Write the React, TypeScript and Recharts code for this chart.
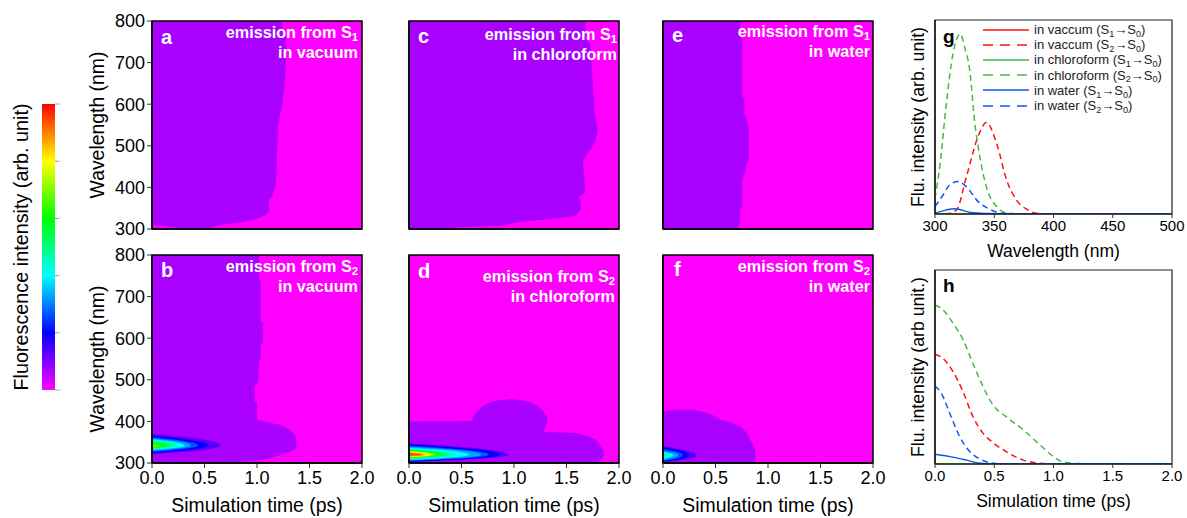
import { Area, Bar, BarChart, ComposedChart, Legend, Line, ReferenceArea, XAxis, YAxis } from "recharts";

const FONT = '"Liberation Sans", Arial, sans-serif';

const timeTicks = [0, 0.5, 1, 1.5, 2];
const wavelengthTicks = [300, 400, 500, 600, 700, 800];
const spectrumTicks = [300, 350, 400, 450, 500];
const intensityTicks = [0, 1, 2, 3, 4, 5];

// contour fill colours, lowest level first
const levelColors = ["#aa00ff", "#5500ff", "#0000ff", "#0055ff", "#00aaff", "#00ffff", "#00ffaa", "#00ff55", "#00ff00", "#55ff00", "#aaff00", "#ffff00", "#ffaa00", "#ff5500"];
const colorbarStops = ["#ff00ff", "#0000ff", "#00ffff", "#00ff00", "#ffff00", "#ff0000"];

// outer contour of each panel: wavelength, then time limit(s) in ps
const wlA = [300, 304, 310, 316, 324, 334, 340, 344, 372, 375, 388, 408, 544, 548, 576, 600, 640, 700, 775, 780, 800];
const hiA = [0.55, 0.58, 0.66, 0.85, 1.0, 1.086, 1.1, 1.114, 1.114, 1.14, 1.16, 1.18, 1.2, 1.2, 1.22, 1.24, 1.26, 1.276, 1.276, 1.238, 1.238];
const loA = [0.36, 0.19, 0];

const wlB = [300, 302, 308, 316, 332, 344, 364, 380, 392, 400, 404, 444, 448, 484, 496, 544, 548, 584, 588, 636, 640, 740, 744, 800];
const hiB = [0.74, 0.84, 1.06, 1.19, 1.36, 1.378, 1.368, 1.314, 1.22, 1.06, 1.0, 1.0, 0.978, 0.978, 1.01, 1.02, 1.035, 1.035, 1.057, 1.057, 1.035, 1.035, 1.02, 1.02];

const wlC = [300, 301.6, 308, 316, 324, 328, 332, 344, 364, 376, 388, 428, 464, 480, 496, 516, 540, 580, 644, 700, 744, 760, 800];
const hiC = [0.2, 0.27, 0.87, 1.03, 1.346, 1.5, 1.58, 1.63, 1.64, 1.616, 1.68, 1.667, 1.657, 1.695, 1.743, 1.78, 1.797, 1.768, 1.752, 1.737, 1.727, 1.68, 1.68];

const wlD = [300, 304, 312, 324, 340, 356, 364, 372, 372.8, 374.4, 376, 388, 396, 399.5, 401, 412, 424, 436, 444, 450.4, 453.6];
const hiD = [1.79, 1.806, 1.85, 1.86, 1.83, 1.775, 1.71, 1.6, 1.55, 1.3, 1.28, 1.3, 1.314, 1.317, 1.317, 1.314, 1.28, 1.235, 1.17, 1.09, 0.965];
const loD = [0, 0, 0, 0, 0, 0, 0, 0, 0, 0, 0, 0, 0, 0, 0.6, 0.615, 0.65, 0.695, 0.76, 0.84, 0.965];

const wlE = [300, 312, 348, 352, 420, 432, 460, 464, 540, 568, 572, 612, 616, 756, 760, 800];
const hiE = [0.705, 0.73, 0.737, 0.755, 0.755, 0.778, 0.797, 0.816, 0.816, 0.794, 0.775, 0.775, 0.755, 0.755, 0.737, 0.737];

const wlF = [300, 332, 356, 372, 388, 396, 404, 416, 424, 428];
const hiF = [0.88, 0.88, 0.83, 0.8, 0.737, 0.657, 0.546, 0.47, 0.37, 0.29];
const loF = [0, 0, 0, 0, 0, 0, 0, 0, 0, 0.1];

// inner contours of the S2 panels, level by level: [wavelengths, time reached]
const blobB = [
  [[321, 327, 335, 342, 352, 362, 370], [0, 0.33, 0.575, 0.654, 0.575, 0.33, 0]],
  [[324, 329, 336, 342, 350, 358.5, 365.6], [0, 0.27, 0.47, 0.536, 0.47, 0.27, 0]],
  [[327, 331.5, 337, 342, 349, 356, 362], [0, 0.22, 0.39, 0.44, 0.39, 0.22, 0]],
  [[329.6, 333.3, 337.7, 342, 348, 354, 359], [0, 0.19, 0.33, 0.37, 0.33, 0.19, 0]],
  [[332, 335, 338.5, 342, 347, 352.5, 357], [0, 0.16, 0.28, 0.314, 0.28, 0.16, 0]],
  [[333.6, 336, 339, 342, 346.5, 351, 355], [0, 0.13, 0.22, 0.25, 0.22, 0.13, 0]],
  [[335, 337, 339.5, 342, 345, 348, 351], [0, 0.095, 0.165, 0.187, 0.165, 0.095, 0]],
  [[337, 338.5, 340, 342, 344.5, 347, 349], [0, 0.07, 0.12, 0.14, 0.12, 0.07, 0]],
  [[338, 339, 340.5, 342, 343.5, 345, 346], [0, 0.045, 0.08, 0.09, 0.08, 0.045, 0]],
];
const blobD = [
  [[301.6, 307, 313.6, 320, 329.5, 339, 347], [0, 0.485, 0.835, 0.95, 0.835, 0.485, 0]],
  [[303.2, 308, 314, 320, 328.7, 337.4, 344.8], [0, 0.44, 0.77, 0.87, 0.77, 0.44, 0]],
  [[304.8, 309.4, 314.7, 320, 327.6, 335, 341.6], [0, 0.39, 0.67, 0.76, 0.67, 0.39, 0]],
  [[306.4, 310.5, 315.2, 320, 326.7, 333.4, 339.2], [0, 0.35, 0.61, 0.69, 0.61, 0.35, 0]],
  [[308, 311.6, 315.8, 320, 325.9, 331.8, 336.8], [0, 0.29, 0.5, 0.57, 0.5, 0.29, 0]],
  [[309.6, 312.7, 316.4, 320, 325, 330, 334.4], [0, 0.22, 0.39, 0.44, 0.39, 0.22, 0]],
  [[311.2, 313.8, 316.9, 320, 324.5, 329, 332.8], [0, 0.18, 0.32, 0.36, 0.32, 0.18, 0]],
  [[312, 314.4, 317.2, 320, 324, 327.8, 331.2], [0, 0.15, 0.26, 0.3, 0.26, 0.15, 0]],
  [[312.8, 315, 317.5, 320, 323.4, 326.7, 329.6], [0, 0.14, 0.24, 0.27, 0.24, 0.14, 0]],
  [[313.6, 315.5, 317.8, 320, 323, 326, 328.8], [0, 0.12, 0.21, 0.235, 0.21, 0.12, 0]],
  [[314.4, 316, 318, 320, 322.5, 325, 327.2], [0, 0.1, 0.18, 0.2, 0.18, 0.1, 0]],
  [[315.2, 316.6, 318.3, 320, 322, 323.9, 325.6], [0, 0.08, 0.14, 0.16, 0.14, 0.08, 0]],
  [[316.8, 317.8, 318.9, 320, 321.7, 323.4, 324.8], [0, 0.06, 0.11, 0.124, 0.11, 0.06, 0]],
];
const blobF = [
  [[300.8, 306, 312, 319, 326, 333, 340.8], [0, 0.16, 0.28, 0.32, 0.28, 0.16, 0]],
  [[303.2, 308, 313.5, 319, 325.5, 332, 337.6], [0, 0.13, 0.22, 0.25, 0.22, 0.13, 0]],
  [[304.8, 309, 314, 319, 324, 329, 333.6], [0, 0.1, 0.17, 0.19, 0.17, 0.1, 0]],
  [[307.2, 310.5, 315, 319, 323, 326.5, 329.6], [0, 0.07, 0.13, 0.146, 0.13, 0.07, 0]],
  [[309.6, 312.5, 316, 319, 321.5, 324, 326.4], [0, 0.05, 0.086, 0.098, 0.086, 0.05, 0]],
  [[312.8, 314.5, 317, 319, 320.5, 322, 323.2], [0, 0.025, 0.044, 0.05, 0.044, 0.025, 0]],
];

// panel g spectra
const gGreenDashX = [300, 304, 309.6, 315.2, 321.4, 325, 329.3, 333.6, 337.8, 343.4, 352, 360.4, 375, 500];
const gGreenDashY = [0.4, 1.22, 2.85, 4.14, 4.64, 4.3, 3.71, 2.34, 1.48, 0.7, 0.19, 0.03, 0, 0];
const gRedDashX = [300, 310, 318, 326.5, 336.4, 343.4, 352, 360.4, 368.8, 378.7, 385.8, 400, 500];
const gRedDashY = [0, 0.01, 0.1, 0.96, 2, 2.36, 1.82, 0.88, 0.36, 0.1, 0.02, 0, 0];
const gBlueDashX = [300, 306.8, 312.4, 319.5, 326.5, 336.4, 346.3, 357.5, 375, 500];
const gBlueDashY = [0.19, 0.49, 0.75, 0.84, 0.7, 0.32, 0.12, 0.02, 0, 0];
const gBlueSolidX = [300, 309, 316.6, 330, 345, 360, 500];
const gBlueSolidY = [0.02, 0.1, 0.137, 0.04, 0.01, 0, 0];
const gFlatX = [300, 500];
const gFlatY = [0, 0];

// panel h decay curves
const hGreenDashX = [0, 0.068, 0.152, 0.237, 0.32, 0.406, 0.49, 0.6, 0.745, 0.886, 1.0, 1.083, 1.22, 1.4, 2];
const hGreenDashY = [4.1, 3.97, 3.63, 3.2, 2.59, 1.99, 1.52, 1.22, 0.88, 0.49, 0.19, 0.05, 0.01, 0, 0];
const hRedDashX = [0, 0.068, 0.152, 0.237, 0.32, 0.406, 0.49, 0.6, 0.745, 0.857, 1.0, 2];
const hRedDashY = [2.83, 2.72, 2.38, 1.86, 1.22, 0.79, 0.55, 0.32, 0.1, 0.03, 0, 0];
const hBlueDashX = [0, 0.054, 0.124, 0.209, 0.293, 0.378, 0.49, 0.6, 2];
const hBlueDashY = [2.01, 1.82, 1.31, 0.7, 0.32, 0.13, 0.02, 0, 0];
const hBlueSolidX = [0, 0.124, 0.265, 0.378, 0.5, 2];
const hBlueSolidY = [0.25, 0.19, 0.1, 0.02, 0, 0];
const hFlatX = [0, 2];
const hFlatY = [0, 0];

const RED = "#ff1010";
const GREEN = "#44bb44";
const BLUE = "#1155ee";
const DASH = "6 4";

const toRows = (wl: number[], hi: number[], lo: number[] = []) =>
  wl.map((w, i) => ({ wl: w, t: [lo[i] ?? 0, hi[i]] }));
const toPoints = (x: number[], y: number[]) => x.map((v, i) => ({ x: v, y: y[i] }));

// S1 in subscript: digits after S become small
const withSubs = (text: string) =>
  text.split(/(\d)/).map((part, i) =>
    i % 2 ? (
      <span key={i} style={{ fontSize: "0.7em", position: "relative", top: "0.3em", lineHeight: 0 }}>
        {part}
      </span>
    ) : (
      part
    )
  );

function HeatPanel({ left, top, outer, blob = [], letter, lines, textRight, textTop, letterX, letterY, showX, showY }: any) {
  const plotW = 210;
  const plotH = 208;
  return (
    <>
      <div style={{ position: "absolute", left: left - 70, top: top - 12 }}>
        <ComposedChart layout="vertical" width={plotW + 90} height={plotH + 67} margin={{ top: 12, right: 20, left: 0, bottom: 5 }}>
          <XAxis
            type="number"
            dataKey="t"
            domain={[0, 2]}
            ticks={timeTicks}
            allowDataOverflow
            height={50}
            tickSize={5}
            tickMargin={3}
            interval={0}
            tickFormatter={(v: number) => v.toFixed(1)}
            tick={showX ? { fill: "#000", fontSize: 18 } : false}
            axisLine={{ stroke: "#000", strokeWidth: 1.5 }}
            tickLine={{ stroke: "#333" }}
            label={showX ? { value: "Simulation time (ps)", position: "center", dy: 17, fontSize: 19.4, fill: "#000" } : undefined}
          />
          <YAxis
            type="number"
            dataKey="wl"
            domain={[300, 800]}
            ticks={wavelengthTicks}
            reversed
            allowDataOverflow
            width={70}
            tickSize={5}
            tickMargin={2}
            interval={0}
            tick={showY ? { fill: "#000", fontSize: 18 } : false}
            axisLine={{ stroke: "#000", strokeWidth: 1.5 }}
            tickLine={{ stroke: "#333" }}
            label={showY ? { value: "Wavelength (nm)", angle: -90, position: "center", dx: -20, fontSize: 19.4, fill: "#000" } : undefined}
          />
          <ReferenceArea x1={0} x2={2} y1={300} y2={800} fill="#ff00ff" fillOpacity={1} stroke="none" />
          <Area data={outer} dataKey="t" type="linear" fill={levelColors[0]} fillOpacity={1} stroke="none" dot={false} activeDot={false} isAnimationActive={false} />
          {blob.map((band: number[][], i: number) => (
            <Area
              key={i}
              data={toRows(band[0], band[1])}
              dataKey="t"
              type="monotone"
              fill={levelColors[i + 1]}
              fillOpacity={1}
              stroke="none"
              dot={false}
              activeDot={false}
              isAnimationActive={false}
            />
          ))}
          <ReferenceArea x1={0} x2={2} y1={300} y2={800} fill="none" stroke="#000" strokeWidth={1.5} />
        </ComposedChart>
      </div>
      <div style={{ position: "absolute", left: letterX, top: letterY - 11, color: "#fff", fontWeight: "bold", fontSize: 20, lineHeight: "22px" }}>{letter}</div>
      <div style={{ position: "absolute", right: 1187 - textRight, top: textTop - 10, color: "#fff", fontWeight: "bold", fontSize: 16.2, lineHeight: "19.5px", textAlign: "right", whiteSpace: "nowrap" }}>
        <div>{withSubs(lines[0])}</div>
        <div>{lines[1]}</div>
      </div>
    </>
  );
}

function LegendBox({ payload }: any) {
  return (
    <div style={{ fontFamily: FONT, fontSize: 13, color: "#222" }}>
      {(payload ?? []).map((entry: any, i: number) => (
        <div key={i} style={{ display: "flex", alignItems: "center", height: 15.2, whiteSpace: "nowrap" }}>
          <svg width={46} height={6} style={{ marginRight: 5, flex: "none" }}>
            <line x1={0} y1={3} x2={46} y2={3} stroke={entry.color} strokeWidth={1.5} strokeDasharray={entry.payload?.strokeDasharray ? "10 7" : undefined} />
          </svg>
          <span>{withSubs(entry.value)}</span>
        </div>
      ))}
    </div>
  );
}

function LinePanel({ top, domain, ticks, xTitle, yTitle, series, format, legend }: any) {
  const plotW = 237;
  const plotH = 194;
  const chartTop = top - 5;
  return (
    <div style={{ position: "absolute", left: 935 - 70, top: chartTop }}>
      <ComposedChart width={plotW + 85} height={plotH + 60} margin={{ top: 5, right: 15, left: 0, bottom: 5 }}>
        <XAxis
          type="number"
          dataKey="x"
          domain={domain}
          ticks={ticks}
          allowDataOverflow
          height={50}
          tickSize={4}
          tickMargin={2}
          interval={0}
          tickFormatter={format}
          tick={{ fill: "#000", fontSize: 15 }}
          axisLine={{ stroke: "#000", strokeWidth: 1.2 }}
          tickLine={{ stroke: "#333" }}
          label={{ value: xTitle, position: "center", dy: 12, fontSize: 17.5, fill: "#000" }}
        />
        <YAxis
          type="number"
          domain={[0, 5]}
          ticks={intensityTicks}
          allowDataOverflow
          width={70}
          tickSize={3}
          interval={0}
          tick={false}
          axisLine={{ stroke: "#000", strokeWidth: 1.2 }}
          tickLine={{ stroke: "#333" }}
          label={{ value: yTitle, angle: -90, position: "center", dx: 18, fontSize: 17.7, fill: "#000" }}
        />
        {series.map((s: any) => (
          <Line
            key={s.name}
            name={s.name}
            data={s.data}
            dataKey="y"
            type="monotone"
            stroke={s.color}
            strokeWidth={1.5}
            strokeDasharray={s.dash}
            dot={false}
            activeDot={false}
            isAnimationActive={false}
          />
        ))}
        <ReferenceArea x1={domain[0]} x2={domain[1]} y1={0} y2={5} fill="none" stroke="#222" strokeWidth={1.2} />
        {legend && (
          <Legend
            layout="vertical"
            align="center"
            verticalAlign="middle"
            itemSorter={null}
            content={<LegendBox />}
            wrapperStyle={{ left: 983 - 865, top: 22 - chartTop, width: 190, height: 92, bottom: "auto", right: "auto", margin: 0 }}
          />
        )}
      </ComposedChart>
    </div>
  );
}

const gSeries = [
  { name: "in vaccum (S1→S0)", color: RED, data: toPoints(gFlatX, gFlatY) },
  { name: "in vaccum (S2→S0)", color: RED, dash: DASH, data: toPoints(gRedDashX, gRedDashY) },
  { name: "in chloroform (S1→S0)", color: GREEN, data: toPoints(gFlatX, gFlatY) },
  { name: "in chloroform (S2→S0)", color: GREEN, dash: DASH, data: toPoints(gGreenDashX, gGreenDashY) },
  { name: "in water (S1→S0)", color: BLUE, data: toPoints(gBlueSolidX, gBlueSolidY) },
  { name: "in water (S2→S0)", color: BLUE, dash: DASH, data: toPoints(gBlueDashX, gBlueDashY) },
];
const hSeries = [
  { name: "vaccum S1", color: RED, data: toPoints(hFlatX, hFlatY) },
  { name: "vaccum S2", color: RED, dash: DASH, data: toPoints(hRedDashX, hRedDashY) },
  { name: "chloroform S1", color: GREEN, data: toPoints(hFlatX, hFlatY) },
  { name: "chloroform S2", color: GREEN, dash: DASH, data: toPoints(hGreenDashX, hGreenDashY) },
  { name: "water S1", color: BLUE, data: toPoints(hBlueSolidX, hBlueSolidY) },
  { name: "water S2", color: BLUE, dash: DASH, data: toPoints(hBlueDashX, hBlueDashY) },
];

function Colorbar() {
  return (
    <div style={{ position: "absolute", left: 0, top: 94 }}>
      <BarChart width={75} height={306} data={[{ name: "scale", top: 5 }]} barCategoryGap={0} margin={{ top: 10, right: 0, left: 0, bottom: 10 }}>
        <defs>
          <linearGradient id="rainbow" x1="0" y1="1" x2="0" y2="0">
            {colorbarStops.map((c, i) => (
              <stop key={c} offset={i / (colorbarStops.length - 1)} stopColor={c} />
            ))}
          </linearGradient>
        </defs>
        <XAxis dataKey="name" hide />
        <YAxis
          yAxisId="title"
          domain={[0, 5]}
          width={42}
          tick={false}
          axisLine={false}
          tickLine={false}
          label={{ value: "Fluorescence intensity (arb. unit)", angle: -90, position: "center", fontSize: 19.8, fill: "#000" }}
        />
        <YAxis
          yAxisId="scale"
          orientation="right"
          domain={[0, 5]}
          ticks={intensityTicks}
          interval={0}
          width={20}
          axisLine={false}
          tickSize={4}
          tickMargin={1}
          tick={{ fill: "#ccc", fontSize: 3 }}
          tickLine={{ stroke: "#999" }}
        />
        <Bar yAxisId="scale" dataKey="top" fill="url(#rainbow)" isAnimationActive={false} />
      </BarChart>
    </div>
  );
}

export default function App() {
  return (
    <div style={{ position: "absolute", left: 0, top: 0, width: 1187, height: 518, background: "#fff", fontFamily: FONT, overflow: "hidden" }}>
      <Colorbar />
      <HeatPanel left={152} top={21} outer={toRows(wlA, hiA, loA)} letter="a" letterX={161} letterY={37} lines={["emission from S1", "in vacuum"]} textRight={358} textTop={33} showY />
      <HeatPanel left={152} top={255} outer={toRows(wlB, hiB)} blob={blobB} letter="b" letterX={161} letterY={270} lines={["emission from S2", "in vacuum"]} textRight={358} textTop={267} showX showY />
      <HeatPanel left={409} top={21} outer={toRows(wlC, hiC)} letter="c" letterX={418} letterY={36} lines={["emission from S1", "in chloroform"]} textRight={617} textTop={35} />
      <HeatPanel left={409} top={255} outer={toRows(wlD, hiD, loD)} blob={blobD} letter="d" letterX={418} letterY={271} lines={["emission from S2", "in chloroform"]} textRight={615} textTop={277} showX />
      <HeatPanel left={663} top={21} outer={toRows(wlE, hiE)} letter="e" letterX={672} letterY={35} lines={["emission from S1", "in water"]} textRight={870} textTop={32} />
      <HeatPanel left={663} top={255} outer={toRows(wlF, hiF, loF)} blob={blobF} letter="f" letterX={674} letterY={269} lines={["emission from S2", "in water"]} textRight={870} textTop={267} showX />
      <LinePanel top={20} domain={[300, 500]} ticks={spectrumTicks} xTitle="Wavelength (nm)" yTitle="Flu. intensity (arb. unit)" series={gSeries} format={(v: number) => String(v)} legend />
      <LinePanel top={270} domain={[0, 2]} ticks={timeTicks} xTitle="Simulation time (ps)" yTitle="Flu. intensity (arb unit.)" series={hSeries} format={(v: number) => v.toFixed(1)} />
      <div style={{ position: "absolute", left: 943, top: 26, fontWeight: "bold", fontSize: 19, lineHeight: "22px", color: "#000" }}>g</div>
      <div style={{ position: "absolute", left: 943, top: 275, fontWeight: "bold", fontSize: 19, lineHeight: "22px", color: "#000" }}>h</div>
    </div>
  );
}
